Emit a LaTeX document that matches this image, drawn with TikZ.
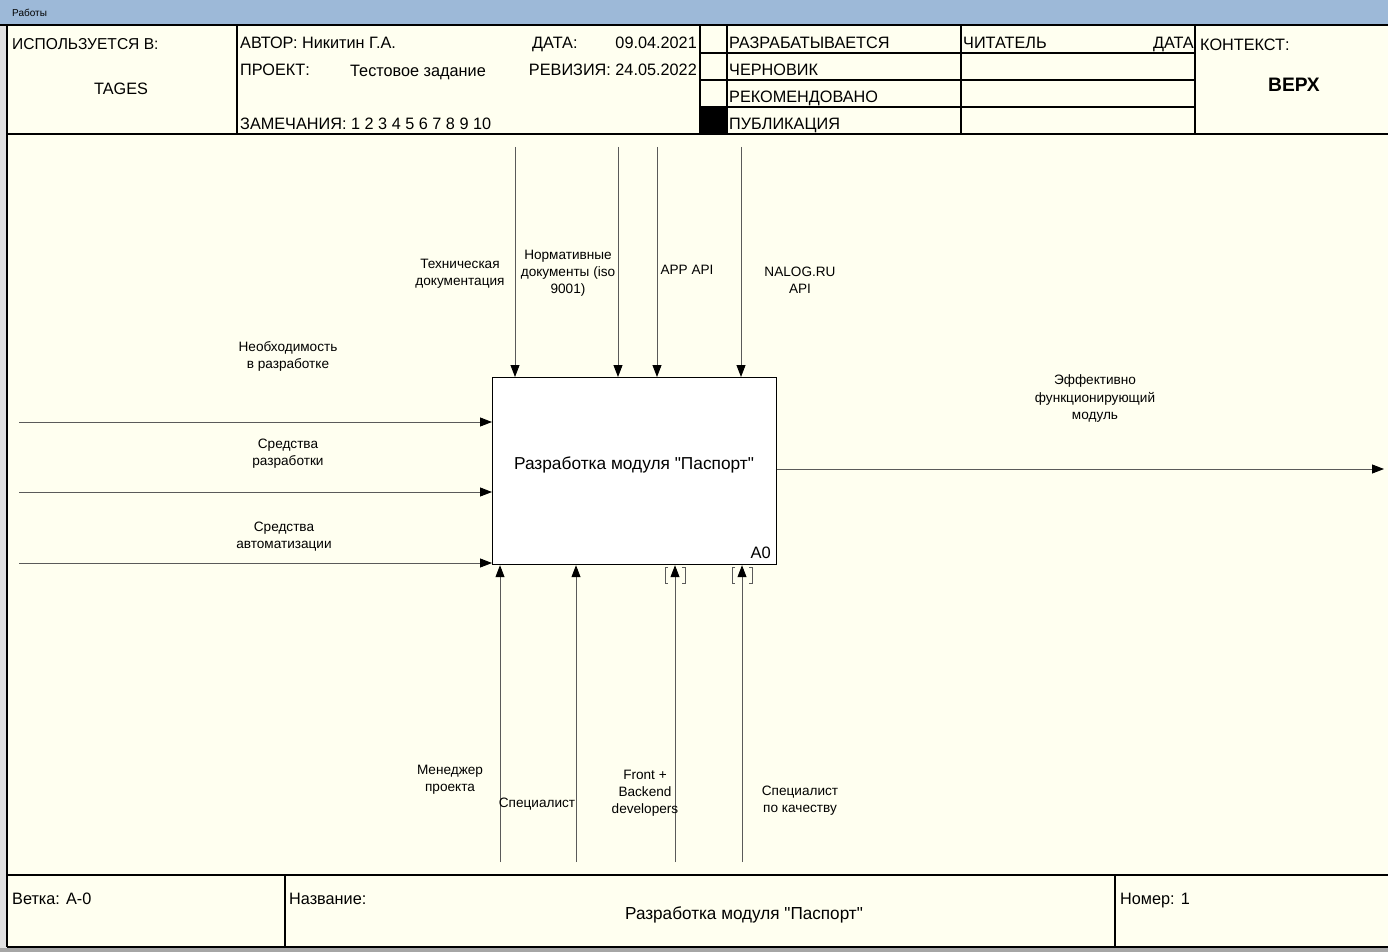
\documentclass[tikz,border=0pt]{standalone}
\usepackage{fontspec}
\setmainfont{Liberation Sans}
\newfontfamily\hdrfont[FakeStretch=0.985]{Liberation Sans}
\newfontfamily\boxfont{Liberation Sans}
\usetikzlibrary{arrows.meta}
\definecolor{cream}{RGB}{255,255,240}
\definecolor{titlebar}{RGB}{157,185,216}
\definecolor{linegray}{RGB}{90,90,90}
\definecolor{sidegray}{RGB}{225,225,225}
\tikzset{
  hdr/.style={font=\hdrfont\fontsize{16.5}{18}\selectfont, inner sep=0pt, anchor=base west},
  lbl/.style={font=\fontsize{13.6}{17.2}\selectfont, align=center, inner sep=0pt},
  arr/.style={draw=linegray, line width=0.9pt, -{Triangle[width=9pt,length=12pt,fill=black,color=black]}},
  frame/.style={draw=black, line width=1.3pt},
  boxA/.style={draw=black, line width=1.2pt, fill=white, minimum width=284pt, minimum height=187pt, anchor=north west, inner sep=0pt},
  tun/.style={draw=linegray, line width=0.8pt}
}
\begin{document}
\begin{tikzpicture}[x=1pt,y=-1pt]
\useasboundingbox (0,0) rectangle (1388,952);
% backgrounds
\fill[sidegray] (0,0) rectangle (1388,952);
\fill[cream] (7,25) rectangle (1388,947);
\fill[titlebar] (0,0) rectangle (1388,25);
\node[font=\fontsize{10}{12}\selectfont, anchor=west, inner sep=0pt] (ttl) at (12,13) {Работы};
\fill[gray!70] (0,948) rectangle (1388,952);
% frame lines
\draw[frame] (0,25) -- (1388,25);
\draw[frame] (7,25) -- (7,947);
\draw[frame] (7,134) -- (1388,134);
\draw[frame] (237,25) -- (237,134);
\draw[frame] (700,25) -- (700,134);
\draw[frame] (727,25) -- (727,134);
\draw[frame] (961,25) -- (961,134);
\draw[frame] (1195,25) -- (1195,134);
\draw[frame] (700,53) -- (1195,53);
\draw[frame] (700,80) -- (1195,80);
\draw[frame] (700,107) -- (1195,107);
\fill[black] (700,107) rectangle (727,134);
\draw[frame] (7,875) -- (1388,875);
\draw[frame] (285,875) -- (285,947);
\draw[frame] (1115,875) -- (1115,947);
\draw[frame] (7,947) -- (1388,947);
% header texts
\node[hdr, font=\hdrfont\fontsize{15.8}{18}\selectfont] (used) at (12,50) {ИСПОЛЬЗУЕТСЯ В:};
\node[hdr, anchor=base] (tages) at (121,95) {TAGES};
\node[hdr] (auth) at (240,49) {АВТОР: Никитин Г.А.};
\node[hdr] (proj) at (240,76) {ПРОЕКТ:};
\node[hdr] (projv) at (350,77) {Тестовое задание};
\node[hdr] (notes) at (240,130) {ЗАМЕЧАНИЯ: 1 2 3 4 5 6 7 8 9 10};
\node[hdr] (date) at (532,49) {ДАТА:};
\node[hdr, anchor=base east] (datev) at (697,49) {09.04.2021};
\node[hdr, anchor=base east] (rev) at (697,76) {РЕВИЗИЯ: 24.05.2022};
\node[hdr] (s1) at (729,49) {РАЗРАБАТЫВАЕТСЯ};
\node[hdr] (s2) at (729,76) {ЧЕРНОВИК};
\node[hdr] (s3) at (729,103) {РЕКОМЕНДОВАНО};
\node[hdr] (s4) at (729,130) {ПУБЛИКАЦИЯ};
\node[hdr] (reader) at (963,49) {ЧИТАТЕЛЬ};
\node[hdr, anchor=base east] (rdate) at (1194,49) {ДАТА};
\node[hdr] (ctx) at (1200,51) {КОНТЕКСТ:};
\node[hdr, anchor=base, font=\hdrfont\bfseries\fontsize{19.5}{21}\selectfont] (top) at (1294,92) {ВЕРХ};
% footer texts
\node[hdr] (branch) at (12,904) {Ветка: A-0};
\node[hdr] (name) at (289,904) {Название:};
\node[hdr, anchor=base, font=\hdrfont\fontsize{17.4}{19}\selectfont] (namev) at (744,919) {Разработка модуля "Паспорт"};
\node[hdr] (num) at (1120,904) {Номер: 1};
% main box
\node[boxA] (box) at (492,377) {};
\node[font=\boxfont\fontsize{17.3}{19}\selectfont, inner sep=0pt] (boxt) at (634,465) {Разработка модуля "Паспорт"};
\node[font=\boxfont\fontsize{16.5}{19}\selectfont, inner sep=0pt, anchor=south east] (boxn) at (771,559) {A0};
% controls
\coordinate (c1) at (515,147);
\coordinate (c2) at (618,147);
\coordinate (c3) at (657,147);
\coordinate (c4) at (741,147);
\foreach \c in {c1,c2,c3,c4} {\draw[arr] (\c) -- (\c |- box.north);}
\node[lbl] (lc1) at (460,273.5) {Техническая\\документация};
\node[lbl] (lc2) at (568,273.5) {Нормативные\\документы (iso\\9001)};
\node[lbl] (lc3) at (687,270) {APP API};
\node[lbl] (lc4) at (800,280.5) {NALOG.RU\\API};
% inputs
\coordinate (i1) at (19,422);
\coordinate (i2) at (19,492);
\coordinate (i3) at (19,563);
\foreach \c in {i1,i2,i3} {\draw[arr] (\c) -- (\c -| box.west);}
\node[lbl] (li1) at (288,356.5) {Необходимость\\в разработке};
\node[lbl] (li2) at (288,453.5) {Средства\\разработки};
\node[lbl] (li3) at (284,537) {Средства\\автоматизации};
% output
\coordinate (o1) at (1384,469);
\draw[arr] (box.east |- o1) -- (o1);
\node[lbl] (lo1) at (1095,398.5) {Эффективно\\функционирующий\\модуль};
% mechanisms
\coordinate (m1) at (500,862);
\coordinate (m2) at (576,862);
\coordinate (m3) at (675,862);
\coordinate (m4) at (742,862);
\foreach \c in {m1,m2,m3,m4} {\draw[arr] (\c) -- (\c |- box.south);}
\foreach \c in {m3,m4} {
  \draw[tun] ([xshift=-7pt]\c |- box.south) ++(0,2) -- ++(-3,0) -- ++(0,16) -- ++(3,0);
  \draw[tun] ([xshift=7pt]\c |- box.south) ++(0,2) -- ++(3,0) -- ++(0,16) -- ++(-3,0);
}
\node[lbl] (lm1) at (450,779.5) {Менеджер\\проекта};
\node[lbl] (lm2) at (537,804) {Специалист};
\node[lbl] (lm3) at (645,793.5) {Front +\\Backend\\developers};
\node[lbl] (lm4) at (800,800.5) {Специалист\\по качеству};
\end{tikzpicture}
\end{document}
